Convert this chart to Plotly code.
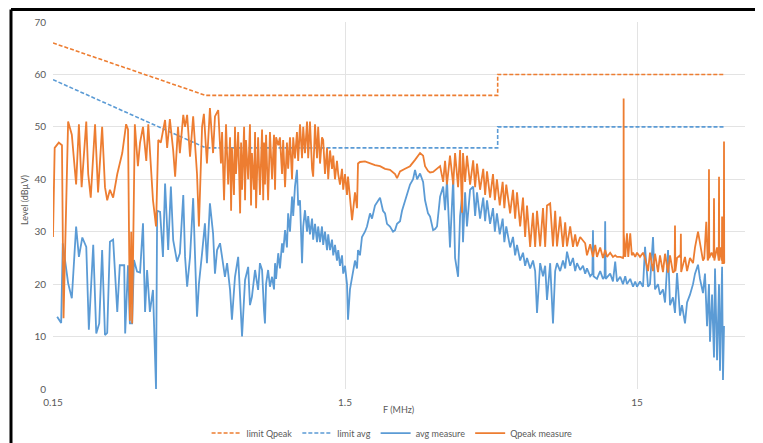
"""Conducted emission scan: Qpeak / average measurements against CISPR limits."""

import math

import plotly.graph_objects as go

# ---------------------------------------------------------------------------
# Data
# ---------------------------------------------------------------------------
limit_freq = [0.15, 0.5, 5.0, 5.0, 30.0]
limit_qpeak = [66, 56, 56, 60, 60]
limit_avg = [59, 46, 46, 50, 50]

qpeak_freq = [
    0.150, 0.152, 0.157, 0.161, 0.163, 0.169, 0.174, 0.180, 0.184, 0.188,
    0.195, 0.198, 0.202, 0.209, 0.214, 0.221, 0.226, 0.230, 0.235, 0.241,
    0.249, 0.259, 0.267, 0.271, 0.275, 0.278, 0.280, 0.283, 0.286, 0.293,
    0.298, 0.305, 0.313, 0.318, 0.325, 0.330, 0.338, 0.344, 0.351, 0.363,
    0.369, 0.377, 0.387, 0.393, 0.402, 0.408, 0.419, 0.425, 0.432, 0.442,
    0.453, 0.467, 0.474, 0.486, 0.493, 0.505, 0.517, 0.530, 0.538, 0.552,
    0.564, 0.569, 0.578, 0.587, 0.597, 0.606, 0.611, 0.615, 0.625, 0.630,
    0.635, 0.646, 0.656, 0.661, 0.666, 0.677, 0.682, 0.687, 0.699, 0.709,
    0.715, 0.720, 0.732, 0.738, 0.744, 0.756, 0.767, 0.780, 0.787, 0.792,
    0.798, 0.805, 0.818, 0.830, 0.844, 0.857, 0.864, 0.871, 0.886, 0.898,
    0.913, 0.921, 0.935, 0.949, 0.958, 0.972, 0.988, 0.997, 1.011, 1.027,
    1.037, 1.052, 1.069, 1.079, 1.094, 1.112, 1.122, 1.138, 1.157, 1.167,
    1.184, 1.203, 1.214, 1.232, 1.251, 1.263, 1.281, 1.302, 1.314, 1.333,
    1.354, 1.367, 1.386, 1.408, 1.422, 1.442, 1.465, 1.479, 1.500, 1.524,
    1.536, 1.560, 1.586, 1.623, 1.649, 1.662, 1.688, 1.756, 1.827, 1.900,
    1.977, 2.057, 2.139, 2.191, 2.226, 2.261, 2.315, 2.408, 2.505, 2.606,
    2.711, 2.777, 2.820, 2.887, 2.934, 3.005, 3.099, 3.175, 3.253, 3.302,
    3.352, 3.433, 3.521, 3.573, 3.659, 3.717, 3.776, 3.804, 3.867, 3.925,
    4.023, 4.121, 4.185, 4.248, 4.352, 4.462, 4.529, 4.597, 4.710, 4.819,
    4.890, 4.970, 5.083, 5.200, 5.270, 5.350, 5.516, 5.642, 5.738, 5.823,
    5.969, 6.105, 6.209, 6.301, 6.459, 6.606, 6.719, 6.818, 6.989, 7.148,
    7.271, 7.377, 7.563, 7.734, 7.868, 7.982, 8.184, 8.369, 8.513, 8.637,
    8.856, 9.055, 9.212, 9.346, 9.582, 9.799, 9.969, 10.11, 10.37, 10.60,
    10.79, 10.94, 11.22, 11.47, 11.67, 11.84, 12.14, 12.41, 12.63, 12.81,
    13.14, 13.43, 13.49, 13.50, 13.51, 13.67, 13.86, 14.00, 14.22, 14.40,
    14.54, 14.79, 15.00, 15.36, 15.73, 15.98, 16.36, 16.62, 17.02, 17.29,
    17.70, 17.98, 18.41, 18.71, 19.16, 19.46, 19.92, 20.18, 20.24, 20.30,
    20.57, 21.06, 21.15, 21.20, 21.25, 21.90, 22.26, 22.78, 23.33, 23.70,
    24.27, 24.65, 25.24, 25.50, 25.90, 26.20, 26.40, 26.46, 26.52, 27.00,
    27.45, 27.53, 27.60, 28.20, 28.58, 28.64, 28.70, 29.00, 29.30, 29.34,
    29.40, 29.74, 29.79, 29.84,
]
qpeak_level = [
    29, 46, 47, 46.5, 13.5, 51, 48.5, 39, 50.5, 38.5,
    51, 41, 36.5, 50.5, 37.5, 50, 38.5, 36, 38, 36.5,
    41, 45, 50.5, 49.5, 13, 30, 12.5, 35, 50.5, 42.5,
    47, 50, 43.5, 50.5, 42.5, 36, 31, 47.5, 47, 51.3,
    46, 51.5, 45.5, 40.5, 50, 45, 52.3, 50, 52.3, 44.3,
    52, 41, 31, 50, 52.5, 43, 53.6, 45, 52, 53.2,
    43, 49, 36, 50.5, 39, 48, 34, 46, 37, 50,
    41, 49, 33.5, 47, 38, 50, 36, 47.5, 40, 50.5,
    35, 45, 38, 49, 34.5, 48, 37, 49.5, 36, 47,
    39, 48.5, 36, 49, 40, 48.5, 38, 48, 46.5, 48,
    41, 47.5, 38.5, 47, 42, 48, 40, 48, 44, 49,
    43.5, 50.5, 44, 50, 45, 51, 44, 51, 42, 40.5,
    50.5, 44, 50, 43, 48, 47.5, 41, 46, 40, 45.5,
    42, 44.5, 40, 43.5, 41, 39, 42, 38, 41, 37,
    40.5, 36, 32.2, 37.5, 34.5, 43, 43.3, 43.4, 43, 42.7,
    42.5, 42, 41.8, 41.4, 41, 40.2, 41.5, 42, 42.5, 43.7,
    45, 44.5, 42.5, 41.6, 41.3, 41.4, 42, 42.5, 39.5, 43.5,
    39, 44.5, 39, 45, 38.5, 45.6, 33.6, 45, 39.5, 44.5,
    39, 43.6, 38.5, 43, 38, 42, 37, 41.5, 36.5, 41,
    36, 40, 35, 39.5, 34.5, 39, 33.5, 38, 32.5, 37.5,
    31, 36.5, 29, 35, 27.1, 33.6, 27.1, 34, 27.2, 34.5,
    27.1, 35, 35.4, 27.2, 34, 27.2, 32.9, 27.1, 31.8, 27.2,
    31, 27.1, 29.5, 27.2, 29, 28.4, 27.8, 25.5, 27.6, 25.2,
    27.5, 25.2, 27, 25, 26.5, 25.2, 26, 25.2, 25.5, 25.2,
    25.2, 25, 25.5, 55.4, 29.7, 25.2, 29.7, 25.2, 29.7, 25.5,
    26, 25.2, 26, 25.2, 26, 25, 22.5, 26, 22.5, 25.8,
    22.3, 25.5, 22.3, 25.8, 22.2, 25.5, 22.2, 22.5, 31.2, 22.5,
    25, 25.5, 25, 29.6, 22.3, 25.2, 22.5, 25, 24, 27,
    30, 28, 24.5, 25, 31.9, 24.5, 25, 41.9, 25, 26,
    25, 36.4, 24.5, 27, 24.5, 40.5, 24.5, 27, 24.5, 32.9,
    24, 24, 47.2, 24,
]

avg_freq = [
    0.155, 0.157, 0.160, 0.162, 0.166, 0.169, 0.174, 0.180, 0.184, 0.189,
    0.195, 0.199, 0.206, 0.211, 0.216, 0.221, 0.226, 0.230, 0.235, 0.241,
    0.249, 0.254, 0.263, 0.265, 0.271, 0.275, 0.280, 0.284, 0.291, 0.298,
    0.305, 0.310, 0.315, 0.322, 0.330, 0.333, 0.338, 0.341, 0.349, 0.357,
    0.363, 0.372, 0.380, 0.387, 0.399, 0.408, 0.419, 0.425, 0.432, 0.442,
    0.453, 0.467, 0.474, 0.486, 0.497, 0.505, 0.517, 0.530, 0.538, 0.547,
    0.560, 0.569, 0.582, 0.592, 0.606, 0.615, 0.630, 0.646, 0.656, 0.666,
    0.682, 0.699, 0.709, 0.720, 0.738, 0.756, 0.767, 0.780, 0.792, 0.798,
    0.805, 0.818, 0.830, 0.844, 0.857, 0.864, 0.871, 0.886, 0.898, 0.913,
    0.921, 0.935, 0.949, 0.958, 0.972, 0.988, 0.997, 1.011, 1.027, 1.037,
    1.052, 1.069, 1.079, 1.094, 1.112, 1.122, 1.138, 1.157, 1.167, 1.184,
    1.203, 1.214, 1.232, 1.251, 1.263, 1.281, 1.302, 1.314, 1.333, 1.354,
    1.367, 1.386, 1.408, 1.422, 1.442, 1.465, 1.479, 1.500, 1.524, 1.536,
    1.560, 1.586, 1.623, 1.649, 1.662, 1.688, 1.715, 1.756, 1.784, 1.827,
    1.856, 1.900, 1.946, 1.977, 2.024, 2.057, 2.089, 2.139, 2.191, 2.226,
    2.261, 2.315, 2.352, 2.408, 2.446, 2.505, 2.566, 2.606, 2.648, 2.711,
    2.777, 2.820, 2.887, 2.934, 3.005, 3.052, 3.099, 3.175, 3.253, 3.302,
    3.352, 3.433, 3.521, 3.573, 3.659, 3.717, 3.776, 3.804, 3.867, 3.925,
    4.023, 4.121, 4.185, 4.248, 4.352, 4.462, 4.529, 4.597, 4.710, 4.819,
    4.890, 4.970, 5.083, 5.200, 5.270, 5.350, 5.516, 5.642, 5.738, 5.823,
    5.969, 6.105, 6.209, 6.301, 6.459, 6.606, 6.719, 6.818, 6.989, 7.148,
    7.271, 7.377, 7.563, 7.734, 7.868, 7.982, 8.184, 8.369, 8.513, 8.637,
    8.856, 9.055, 9.212, 9.346, 9.582, 9.799, 9.969, 10.11, 10.37, 10.55,
    10.60, 10.65, 10.94, 11.22, 11.47, 11.62, 11.67, 11.72, 12.14, 12.41,
    12.63, 12.81, 13.14, 13.43, 13.67, 13.86, 14.22, 14.54, 14.79, 15.00,
    15.36, 15.73, 15.98, 16.36, 16.62, 17.02, 17.29, 17.70, 17.98, 18.41,
    18.71, 19.16, 19.46, 19.92, 20.24, 20.57, 21.06, 21.39, 21.90, 22.26,
    22.78, 23.33, 23.70, 24.27, 24.65, 25.24, 25.64, 26.06, 26.46, 26.67,
    27.11, 27.53, 27.75, 28.20, 28.64, 28.86, 29.34, 29.55, 29.79,
]
avg_level = [
    13.8, 13.3, 12.6, 27.8, 23, 20.2, 17.3, 31, 25.2, 28.9,
    27.1, 11.3, 27.5, 10.6, 12.5, 26.5, 10.3, 10.7, 28.1, 28.5,
    14.7, 23.6, 23.6, 10.6, 23.6, 12.5, 12.5, 24.6, 22.4, 22.2,
    31.6, 14.7, 22.7, 14.7, 18.9, 11, 0, 34, 33.8, 25.2,
    39.2, 26.5, 38.6, 28.4, 24.3, 25.9, 37, 25.2, 19.5, 25.2,
    36.4, 13.8, 20, 25.9, 31.6, 24, 35.4, 29.7, 22, 26.5,
    27.8, 25.2, 21.4, 24, 18.9, 13.2, 21.4, 25.2, 17, 10,
    20.8, 23.3, 16, 17.6, 22.7, 18.9, 24, 22.7, 15, 12.5,
    20, 22.7, 19.5, 21.4, 19, 24, 21, 25.9, 23, 27.8,
    26, 30.3, 27, 33.5, 30, 36.7, 33, 38.6, 41.8, 35,
    36, 24, 31, 34.1, 30, 33, 29.5, 32.5, 28.5, 31.5,
    28, 31, 28, 31, 27.5, 30, 26.5, 29.5, 26.5, 28.5,
    25.5, 27.5, 24.5, 26.5, 23.5, 25.5, 22, 23.5, 20, 13.2,
    19, 21.4, 24.5, 23, 26.5, 25.5, 29, 30, 31, 33.5,
    32.5, 35, 36, 36.5, 34, 33.5, 31.5, 31, 30, 30.3,
    31.5, 32, 34, 36, 37.5, 39, 40, 41.8, 40, 41.1,
    39.5, 36, 33.5, 32.9, 30.3, 30.5, 31, 36.7, 38.6, 34.1,
    39.9, 27, 40.2, 25, 21.4, 33, 36.7, 28, 37.5, 31,
    38, 38.6, 33, 37.5, 32.5, 36.5, 32, 36, 31.5, 34.5,
    30, 33.5, 29.5, 32.5, 28, 31, 27, 29, 25.5, 27.5,
    24.5, 26, 23.5, 25, 23, 24.5, 22.5, 14.5, 24, 21.5,
    23.5, 17, 24, 12.5, 22.5, 24, 22.5, 24.5, 23, 26.2,
    23.5, 25, 22.5, 24, 22.7, 23.5, 22, 23, 21.5, 22,
    30.3, 21.5, 21, 22.5, 21, 21.5, 32, 21, 22, 20.5,
    24.3, 20.5, 21.4, 20, 21.5, 20, 21, 19.5, 20.5, 19.5,
    20.5, 19.5, 27.1, 19.5, 20, 29, 19, 20, 18, 19,
    16.5, 26.5, 16, 17.5, 14.5, 22.1, 14, 16, 12.5, 16.5,
    18, 20, 22, 23.7, 21, 18.3, 22, 12, 20, 9,
    18, 6, 23, 5.5, 20, 3.5, 23.3, 1.7, 12,
]

x_ticks = [0.15, 1.5, 15]
x_tick_text = ["0.15", "1.5", "15"]
y_ticks = [0, 10, 20, 30, 40, 50, 60, 70]

# ---------------------------------------------------------------------------
# Style
# ---------------------------------------------------------------------------
ORANGE = "#ED7D31"
BLUE = "#5B9BD5"
GRID = "#E3E3E3"
TEXT = "#595959"
FONT = "Lato, 'Open Sans', sans-serif"

fig = go.Figure()
fig.add_trace(go.Scatter(
    x=limit_freq, y=limit_qpeak, mode="lines", name="limit Qpeak",
    line=dict(color=ORANGE, width=1.6, dash="4px,2px"),
))
fig.add_trace(go.Scatter(
    x=limit_freq, y=limit_avg, mode="lines", name="limit avg",
    line=dict(color=BLUE, width=1.6, dash="4px,2px"),
))
fig.add_trace(go.Scatter(
    x=avg_freq, y=avg_level, mode="lines", name="avg measure",
    line=dict(color=BLUE, width=1.8),
))
fig.add_trace(go.Scatter(
    x=qpeak_freq, y=qpeak_level, mode="lines", name="Qpeak measure",
    line=dict(color=ORANGE, width=1.8),
))

# the page body adds an 8px offset, so the figure is 8px smaller
x_lo = math.log10(0.15)
fig.update_layout(
    width=755,
    height=435,
    margin=dict(l=45, r=18, t=14, b=54, autoexpand=False),
    paper_bgcolor="white",
    plot_bgcolor="white",
    font=dict(family=FONT, size=9, color=TEXT),
    showlegend=True,
    legend=dict(
        orientation="h", x=0.49, xanchor="center", y=-0.12, yanchor="middle",
        font=dict(size=9, color=TEXT), itemwidth=30, traceorder="normal",
    ),
    xaxis=dict(
        type="log", range=[x_lo, x_lo + 692 / 292],
        tickvals=x_ticks, ticktext=x_tick_text,
        showgrid=True, gridcolor=GRID, gridwidth=1,
        showline=False, zeroline=False, ticks="",
        ticklabelstandoff=6, automargin=False,
        tickfont=dict(size=10, color=TEXT),
    ),
    yaxis=dict(
        range=[0, 70], tickvals=y_ticks,
        showgrid=True, gridcolor=GRID, gridwidth=1,
        showline=False, zeroline=False, ticks="",
        ticklabelstandoff=6, automargin=False,
        tickfont=dict(size=10, color=TEXT),
    ),
    annotations=[
        dict(text="Level (dBµV)", xref="paper", yref="paper", x=-0.0405, y=0.515,
             xanchor="center", yanchor="middle", textangle=-90, showarrow=False,
             font=dict(size=9, color=TEXT)),
        dict(text="F (MHz)", xref="paper", yref="paper", x=0.4986, y=-0.0545,
             xanchor="center", yanchor="middle", showarrow=False,
             font=dict(size=9, color=TEXT)),
    ],
    shapes=[
        # black frame of the screenshot (top and left edges)
        dict(type="line", xref="paper", yref="paper", x0=-0.0607, x1=1.03,
             y0=1.034, y1=1.034, line=dict(color="black", width=3)),
        dict(type="line", xref="paper", yref="paper", x0=-0.0607, x1=-0.0607,
             y0=1.034, y1=-0.15, line=dict(color="black", width=3)),
    ],
)

fig.write_html("out.html")
